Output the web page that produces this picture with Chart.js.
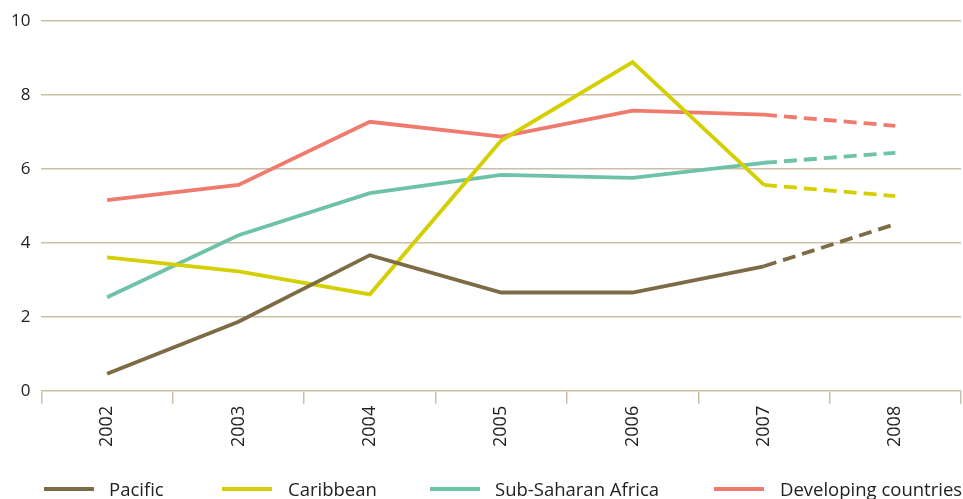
<!DOCTYPE html>
<html>
<head>
<meta charset="utf-8">
<script src="https://cdn.jsdelivr.net/npm/chart.js@4"></script>
<style>
html,body{margin:0;padding:0;background:#fff;}
#wrap{width:963px;height:499px;position:relative;overflow:hidden;}
#c{position:absolute;left:0;top:0;}
.lg-line{position:absolute;height:4px;width:50px;top:487px;}
.lg-text{position:absolute;top:479px;line-height:20px;font-family:'Open Sans','Noto Sans',sans-serif;font-size:18.5px;color:#222;white-space:nowrap;}
</style>
</head>
<body>
<div id="wrap"><canvas id="c" width="963" height="499"></canvas><div id="legend"></div></div>
<script>
const categories = ['2002','2003','2004','2005','2006','2007','2008'];
const pacific = [0.46, 1.87, 3.67, 2.66, 2.66, 3.37, 4.51];
const caribbean = [3.61, 3.23, 2.61, 6.77, 8.89, 5.57, 5.27];
const subSaharanAfrica = [2.53, 4.21, 5.35, 5.84, 5.76, 6.17, 6.44];
const developingCountries = [5.16, 5.57, 7.28, 6.88, 7.58, 7.47, 7.17];
const seriesNames = ['Pacific', 'Caribbean', 'Sub-Saharan Africa', 'Developing countries'];
const yTicks = [0, 2, 4, 6, 8, 10];

const colors = ['#7d6b45', '#d4cf00', '#6fc2aa', '#ef7a6e'];
const dashFrom = categories.indexOf('2007');

function ds(label, data, color) {
  return {
    label, data,
    borderColor: color,
    backgroundColor: color,
    borderWidth: 3.8,
    pointRadius: 0,
    tension: 0,
    fill: false,
    segment: {
      borderDash: ctx => ctx.p0DataIndex >= dashFrom ? [13, 7] : undefined
    }
  };
}

// HTML legend (layout positions only)
const legendLineX = [44, 222, 430, 714];
const legendTextX = [109, 288, 495, 780];
const legendEl = document.getElementById('legend');
seriesNames.forEach((name, i) => {
  const ln = document.createElement('div');
  ln.className = 'lg-line';
  ln.style.left = legendLineX[i] + 'px';
  ln.style.background = colors[i];
  legendEl.appendChild(ln);
  const tx = document.createElement('div');
  tx.className = 'lg-text';
  tx.style.left = legendTextX[i] + 'px';
  tx.textContent = name;
  legendEl.appendChild(tx);
});

const FONT = "'Open Sans', 'Noto Sans', sans-serif";
const gridColor = '#cbbfa8';

new Chart(document.getElementById('c'), {
  type: 'line',
  data: {
    labels: categories,
    datasets: [
      ds(seriesNames[0], pacific, colors[0]),
      ds(seriesNames[1], caribbean, colors[1]),
      ds(seriesNames[2], subSaharanAfrica, colors[2]),
      ds(seriesNames[3], developingCountries, colors[3])
    ]
  },
  options: {
    responsive: false,
    animation: false,
    layout: { padding: { top: 14, right: 2, left: 0, bottom: 50 } },
    plugins: {
      tooltip: { enabled: false },
      legend: { display: false }
    },
    scales: {
      x: {
        offset: true,
        grid: {
          offset: true,
          drawOnChartArea: false,
          drawTicks: true,
          tickLength: 13,
          color: gridColor,
          lineWidth: 1.5
        },
        border: { display: true, color: gridColor, width: 1.5 },
        ticks: {
          minRotation: 90,
          maxRotation: 90,
          padding: 2,
          color: '#222',
          font: { family: FONT, size: 18 }
        }
      },
      y: {
        min: 0,
        max: 10,
        afterBuildTicks: axis => { axis.ticks = yTicks.map(v => ({ value: v })); },
        grid: {
          drawTicks: false,
          color: ctx => ctx.tick && ctx.tick.value === 0 ? 'rgba(0,0,0,0)' : gridColor,
          lineWidth: 1.5
        },
        border: { display: false },
        ticks: {
          padding: 11,
          color: '#222',
          font: { family: FONT, size: 17 }
        }
      }
    }
  }
});
</script>
</body>
</html>
